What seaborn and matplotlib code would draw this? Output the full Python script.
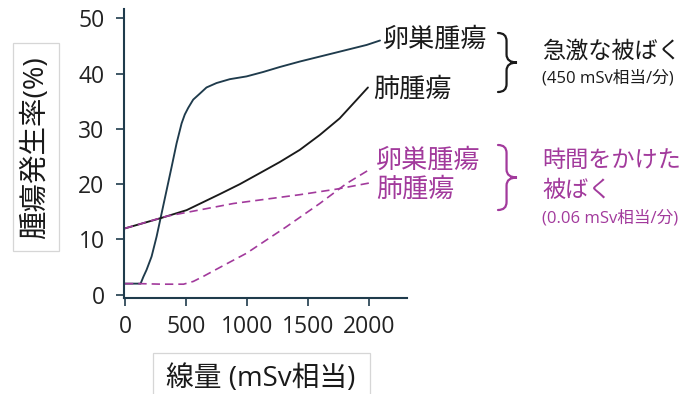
import matplotlib
matplotlib.use("Agg")
import matplotlib.pyplot as plt
import seaborn as sns
import pandas as pd
from matplotlib.path import Path
from matplotlib.patches import PathPatch, Rectangle

# Dose (mSv equivalent) and tumour incidence (%) per series
acute_ovary_dose = [0, 128, 150, 177, 218, 259, 300, 341, 382, 423, 464, 490, 518, 559, 614,
                    668, 750, 859, 996, 1132, 1268, 1434, 1708, 1981, 2090]
acute_ovary_rate = [2.0, 2.0, 3.2, 4.5, 6.9, 10.5, 14.7, 18.9, 23.1, 27.4, 31.0, 32.6, 33.8, 35.3, 36.4,
                    37.5, 38.3, 39.0, 39.5, 40.3, 41.2, 42.2, 43.7, 45.2, 46.0]

acute_lung_dose = [0, 300, 505, 777, 941, 1105, 1268, 1432, 1596, 1759, 1896, 1991]
acute_lung_rate = [12.0, 13.9, 15.3, 18.2, 20.0, 22.0, 24.0, 26.2, 28.9, 31.9, 35.2, 37.5]

slow_ovary_dose = [0, 120, 300, 480, 560, 641, 800, 996, 1323, 1596, 1814, 2000]
slow_ovary_rate = [2.0, 2.0, 1.9, 1.9, 2.4, 3.3, 5.2, 7.5, 12.3, 16.5, 20.1, 22.6]

slow_lung_dose = [0, 342, 888, 1434, 1733, 2000]
slow_lung_rate = [12.0, 14.2, 16.5, 18.1, 19.1, 20.2]

x_ticks = [0, 500, 1000, 1500, 2000]
y_ticks = [0, 10, 20, 30, 40, 50]

DARK = "#1f3b4c"
BLACK = "#1a1a1a"
MAGENTA = "#a23a9c"

sns.set_theme(style="ticks")
plt.rcParams["font.family"] = ["Open Sans", "Noto Sans CJK JP", "DejaVu Sans"]

W, H = 683, 394
fig = plt.figure(figsize=(W / 100, H / 100), dpi=100)
fig.patch.set_facecolor("white")
ax = fig.add_axes([124 / W, 1 - 298 / H, (407 - 124) / W, (298 - 9) / H])


def frame(dose, rate):
    return pd.DataFrame({"dose": dose, "rate": rate})


sns.lineplot(data=frame(acute_ovary_dose, acute_ovary_rate), x="dose", y="rate",
             sort=False, estimator=None, color=DARK, lw=1.35, ax=ax)
sns.lineplot(data=frame(acute_lung_dose, acute_lung_rate), x="dose", y="rate",
             sort=False, estimator=None, color=BLACK, lw=1.35, ax=ax)
sns.lineplot(data=frame(slow_ovary_dose, slow_ovary_rate), x="dose", y="rate",
             sort=False, estimator=None, color=MAGENTA, lw=1.2, ax=ax,
             dashes=False, linestyle=(0, (5, 3)))
sns.lineplot(data=frame(slow_lung_dose, slow_lung_rate), x="dose", y="rate",
             sort=False, estimator=None, color=MAGENTA, lw=1.2, ax=ax,
             dashes=False, linestyle=(0, (5, 3)))

ax.set_xlim(-8, 2311)
ax.set_ylim(-0.6, 51.7)
ax.set_xticks(x_ticks)
ax.set_yticks(y_ticks)
ax.set_xlabel("")
ax.set_ylabel("")
for side in ("top", "right"):
    ax.spines[side].set_visible(False)
for side in ("left", "bottom"):
    ax.spines[side].set_color(DARK)
    ax.spines[side].set_linewidth(1.5)
ax.tick_params(axis="both", colors=DARK, labelcolor="#222222", labelsize=16.5,
               length=6, width=1.2, direction="out")
ax.tick_params(axis="y", pad=8)
ax.tick_params(axis="x", pad=6)


def fx(x):
    return x / W


def fy(y):
    return 1 - y / H


def label(x, y, s, size, color=BLACK, **kw):
    fig.text(fx(x), fy(y), s, fontsize=size, color=color, ha="left", va="center", **kw)


def brace(x0, ytop, ybot, color, w=19, r=8):
    xm = x0 + 0.45 * w
    tip = x0 + w
    ymid = (ytop + ybot) / 2
    pts = [(x0, ytop), (xm, ytop), (xm, ytop + r), (xm, ymid - r),
           (xm, ymid), (tip, ymid), (xm, ymid), (xm, ymid + r),
           (xm, ybot - r), (xm, ybot), (x0, ybot)]
    codes = [Path.MOVETO, Path.CURVE3, Path.CURVE3, Path.LINETO,
             Path.CURVE3, Path.CURVE3, Path.CURVE3, Path.CURVE3,
             Path.LINETO, Path.CURVE3, Path.CURVE3]
    verts = [(fx(a), fy(b)) for a, b in pts]
    fig.add_artist(PathPatch(Path(verts, codes), fill=False, ec=color, lw=1.6,
                             transform=fig.transFigure, capstyle="round"))


# Series labels and exposure-rate groups
label(383, 40, "卵巣腫瘍", 18.8)
label(373, 90, "肺腫瘍", 18.8)
brace(498, 33, 92, BLACK)
label(542, 52, "急激な被ばく", 16.7)
label(542, 78, "(450 mSv相当/分)", 12)

label(376, 161, "卵巣腫瘍", 18.8, MAGENTA)
label(376, 190, "肺腫瘍", 18.8, MAGENTA)
brace(498, 145, 210, MAGENTA)
label(542, 161, "時間をかけた", 16.7, MAGENTA)
label(542, 191, "被ばく", 16.7, MAGENTA)
label(542, 218, "(0.06 mSv相当/分)", 12, MAGENTA)

# Axis titles in light boxes
fig.add_artist(Rectangle((fx(13), fy(251)), (59 - 13) / W, (251 - 43) / H, fill=False,
                         ec="#d6d6d6", lw=0.9, transform=fig.transFigure))
fig.text(fx(36), fy(148), "腫瘍発生率(%)", fontsize=20.5, color=BLACK, rotation=90,
         ha="center", va="center")
fig.add_artist(Rectangle((fx(153), fy(396)), (370 - 153) / W, (396 - 353) / H, fill=False,
                         ec="#d6d6d6", lw=0.9, transform=fig.transFigure))
fig.text(fx(261), fy(379), "線量 (mSv相当)", fontsize=20, color=BLACK,
         ha="center", va="center")

fig.savefig("out.png", dpi=100, facecolor="white")
